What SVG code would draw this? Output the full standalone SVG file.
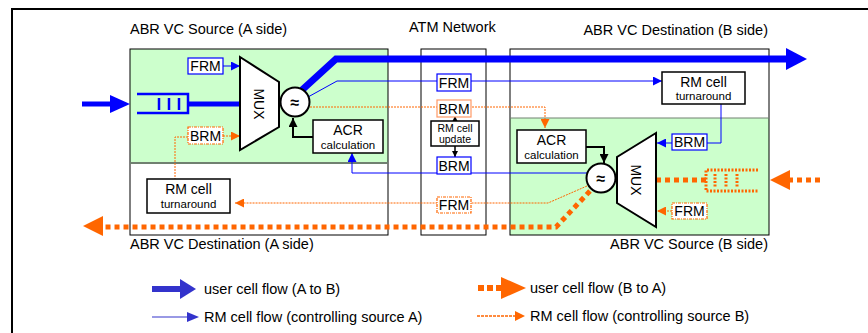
<svg xmlns="http://www.w3.org/2000/svg" width="868" height="333" viewBox="0 0 868 333">
<defs>
<style>
text{font-family:"Liberation Sans",Arial,sans-serif;fill:#000}
.h{font-size:14.5px}
.t{font-size:14px}
.s{font-size:11.5px}
.u{font-size:10.5px}
.l{font-size:14.5px}
.box{fill:#fff;stroke:#000;stroke-width:1.5}
.frame{fill:none;stroke:#000;stroke-width:1}
.bbox{fill:#fff;stroke:#0000ff;stroke-width:1.2}
.obox{fill:#fff;stroke:#ff6600;stroke-width:1.2;stroke-dasharray:3 1 1 1}
.obox2{fill:#fff;stroke:#ff9966;stroke-width:1.2}
.blue{fill:none;stroke:#0000ff;stroke-width:1}
.bthick{fill:none;stroke:#0000ff;stroke-width:7}
.odot{fill:none;stroke:#ff6600;stroke-width:1;stroke-dasharray:2 1}
.othick{fill:none;stroke:#ff6600;stroke-width:5;stroke-dasharray:5 4}
.blk{fill:none;stroke:#000;stroke-width:2}
.mux{fill:#fff;stroke:#000;stroke-width:2}
</style>
<marker id="ab" viewBox="0 0 10 10" refX="10" refY="5" markerWidth="9" markerHeight="9" markerUnits="userSpaceOnUse" orient="auto"><path d="M0,0 L10,5 L0,10 z" fill="#0000ff"/></marker>
<marker id="ao" viewBox="0 0 10 10" refX="10" refY="5" markerWidth="9" markerHeight="9" markerUnits="userSpaceOnUse" orient="auto"><path d="M0,0 L10,5 L0,10 z" fill="#ff6600"/></marker>
<marker id="ak" viewBox="0 0 10 10" refX="10" refY="5" markerWidth="9" markerHeight="9" markerUnits="userSpaceOnUse" orient="auto"><path d="M0,0 L10,5 L0,10 z" fill="#000"/></marker>
<marker id="aks" viewBox="0 0 10 10" refX="10" refY="5" markerWidth="6" markerHeight="6" markerUnits="userSpaceOnUse" orient="auto"><path d="M0,0 L10,5 L0,10 z" fill="#000"/></marker>
</defs>
<rect width="868" height="333" fill="#fff"/>
<path d="M12,333 V9 H868" fill="none" stroke="#000" stroke-width="2"/>

<g id="regionA">
<rect x="130" y="49" width="258" height="114" fill="#ccffcc"/>
<rect x="130" y="49" width="258" height="186" class="frame"/>
<line x1="130" y1="163" x2="388" y2="163" stroke="#708070" stroke-width="2"/>
<text x="130" y="34" class="h">ABR VC Source (A side)</text>
<text x="130" y="249" class="h">ABR VC Destination (A side)</text>
</g>
<g id="regionNet">
<rect x="421" y="49" width="65" height="186" class="frame"/>
<text x="409" y="32" class="h">ATM Network</text>
</g>
<g id="regionB">
<rect x="510" y="118" width="259" height="117" fill="#ccffcc"/>
<rect x="510" y="49" width="259" height="186" class="frame"/>
<line x1="510" y1="118" x2="769" y2="118" stroke="#708070" stroke-width="1"/>
<text x="768" y="35" class="h" text-anchor="end">ABR VC Destination (B side)</text>
<text x="768" y="249" class="h" text-anchor="end">ABR VC Source (B side)</text>
</g>

<g id="connectors">
<line x1="82" y1="104" x2="112" y2="104" stroke="#0000ff" stroke-width="5"/>
<polygon points="110,95 130,104 110,113" fill="#0000ff"/>
<line x1="188" y1="104" x2="241" y2="104" stroke="#0000ff" stroke-width="5"/>
<path d="M302,90 L336,59 H788" class="bthick"/>
<polygon points="786,48 807,59 786,70" fill="#0000ff"/>
<line x1="223" y1="66" x2="240" y2="66" class="blue" marker-end="url(#ab)"/>
<path d="M308,97 L337,81 H662" class="blue" marker-end="url(#ab)"/>
<path d="M721,104 V143 H707" class="blue"/>
<line x1="672" y1="143" x2="657" y2="143" class="blue" marker-end="url(#ab)"/>
<path d="M587,173 H352 V153" class="blue" marker-end="url(#ab)"/>
<path d="M313,137 H293 V118" class="blk" marker-end="url(#ak)"/>
<path d="M586,147 H604 V163" class="blk" marker-end="url(#ak)"/>
<line x1="455" y1="122" x2="455" y2="116" stroke="#000" stroke-width="1.5" marker-end="url(#aks)"/>
<line x1="455" y1="146" x2="455" y2="157" stroke="#000" stroke-width="1.5" marker-end="url(#aks)"/>
<line x1="223" y1="136" x2="240" y2="136" class="odot" marker-end="url(#ao)"/>
<path d="M188,137 H175 V179" class="odot"/>
<path d="M310,107 H545 V128" class="odot" marker-end="url(#ao)"/>
<path d="M587,186 L548,203 H235" class="odot" marker-end="url(#ao)"/>
<line x1="672" y1="211" x2="657" y2="211" class="odot" marker-end="url(#ao)"/>
<line x1="706" y1="180" x2="657" y2="180" class="othick"/>
<line x1="820" y1="180" x2="788" y2="180" class="othick"/>
<polygon points="790,170 770,180 790,190" fill="#ff6600"/>
<path d="M590,191 L556,227 H101" class="othick"/>
<polygon points="103,216 83,226 103,236" fill="#ff6600"/>
</g>

<g id="queueA">
<path d="M137,94 H188 V113 H137" fill="none" stroke="#0000ff" stroke-width="2.5"/>
<line x1="159" y1="98" x2="159" y2="110" stroke="#0000ff" stroke-width="2.5"/>
<line x1="169" y1="98" x2="169" y2="110" stroke="#0000ff" stroke-width="2.5"/>
<line x1="179" y1="98" x2="179" y2="110" stroke="#0000ff" stroke-width="2.5"/>
</g>
<g id="queueB">
<path d="M758,170 H706 V191 H758" fill="none" stroke="#ff6600" stroke-width="3" stroke-dasharray="2 1.5"/>
<line x1="715" y1="174" x2="715" y2="188" stroke="#ff6600" stroke-width="3" stroke-dasharray="2 1.5"/>
<line x1="726" y1="174" x2="726" y2="188" stroke="#ff6600" stroke-width="3" stroke-dasharray="2 1.5"/>
<line x1="737" y1="174" x2="737" y2="188" stroke="#ff6600" stroke-width="3" stroke-dasharray="2 1.5"/>
</g>

<g id="muxA">
<polygon points="240,57 279,82 279,127 240,150" class="mux"/>
<text x="259" y="104" class="t" text-anchor="middle" dominant-baseline="central" transform="rotate(90 259 104)">MUX</text>
</g>
<g id="muxB">
<polygon points="656,133 617,157 617,203 656,227" class="mux"/>
<text x="636" y="180" class="t" text-anchor="middle" dominant-baseline="central" transform="rotate(90 636 180)">MUX</text>
</g>
<g id="shaperA">
<circle cx="295" cy="102" r="14.5" class="mux"/>
<text x="295" y="108" font-size="16" font-weight="bold" text-anchor="middle">≈</text>
</g>
<g id="shaperB">
<circle cx="601" cy="178" r="14.5" class="mux"/>
<text x="601" y="184" font-size="16" font-weight="bold" text-anchor="middle">≈</text>
</g>

<g id="frmA"><rect x="188" y="58" width="35" height="16" class="bbox"/><text x="205.5" y="71" class="t" text-anchor="middle">FRM</text></g>
<g id="brmA"><rect x="188" y="127" width="35" height="17" class="obox"/><text x="205.5" y="140.5" class="t" text-anchor="middle">BRM</text></g>
<g id="acrA"><rect x="313" y="120" width="70" height="33" class="box"/><text x="348" y="135" class="t" text-anchor="middle">ACR</text><text x="348" y="148.5" class="s" text-anchor="middle">calculation</text></g>
<g id="turnA"><rect x="147" y="179" width="83" height="34" class="box"/><text x="188.5" y="194" class="t" text-anchor="middle">RM cell</text><text x="188.5" y="208" class="s" text-anchor="middle">turnaround</text></g>

<g id="frmNet"><rect x="437" y="74" width="34" height="17" class="bbox"/><text x="454" y="87.5" class="t" text-anchor="middle">FRM</text></g>
<g id="brmNetO"><rect x="437" y="100" width="34" height="17" class="obox2"/><text x="454" y="113.5" class="t" text-anchor="middle">BRM</text></g>
<g id="update"><rect x="431" y="121" width="48" height="25" class="box"/><text x="455" y="132" class="u" text-anchor="middle">RM cell</text><text x="455" y="143" class="u" text-anchor="middle">update</text></g>
<g id="brmNetB"><rect x="437" y="157" width="34" height="17" class="bbox"/><text x="454" y="170.5" class="t" text-anchor="middle">BRM</text></g>
<g id="frmNetO"><rect x="437" y="197" width="34" height="16" class="obox"/><text x="454" y="210" class="t" text-anchor="middle">FRM</text></g>

<g id="turnB"><rect x="662" y="72" width="83" height="32" class="box"/><text x="703.5" y="87" class="t" text-anchor="middle">RM cell</text><text x="703.5" y="100" class="s" text-anchor="middle">turnaround</text></g>
<g id="acrB"><rect x="517" y="130" width="69" height="33" class="box"/><text x="551.5" y="145" class="t" text-anchor="middle">ACR</text><text x="551.5" y="158.5" class="s" text-anchor="middle">calculation</text></g>
<g id="brmB"><rect x="672" y="134" width="35" height="16" class="bbox"/><text x="689.5" y="147" class="t" text-anchor="middle">BRM</text></g>
<g id="frmB"><rect x="672" y="203" width="35" height="16" class="obox"/><text x="689.5" y="216" class="t" text-anchor="middle">FRM</text></g>

<g id="legend">
<line x1="152" y1="289" x2="182" y2="289" stroke="#3333cc" stroke-width="6"/>
<polygon points="180,279 196,289 180,299" fill="#3333cc"/>
<text x="204" y="294" class="l">user cell flow (A to B)</text>
<line x1="152" y1="317" x2="188" y2="317" stroke="#7777dd" stroke-width="1.5"/>
<polygon points="187,312 199,317 187,322" fill="#3333cc"/>
<text x="204" y="322" class="l">RM cell flow (controlling source A)</text>
<line x1="478" y1="288" x2="503" y2="288" stroke="#ff6600" stroke-width="6" stroke-dasharray="6 3"/>
<polygon points="501,277 526,288 501,299" fill="#ff6600"/>
<text x="530" y="293" class="l">user cell flow (B to A)</text>
<line x1="477" y1="316" x2="516" y2="316" stroke="#ff6600" stroke-width="1.5" stroke-dasharray="3 1"/>
<polygon points="515,311 525,316 515,321" fill="#ff6600"/>
<text x="530" y="321" class="l">RM cell flow (controlling source B)</text>
</g>
</svg>
